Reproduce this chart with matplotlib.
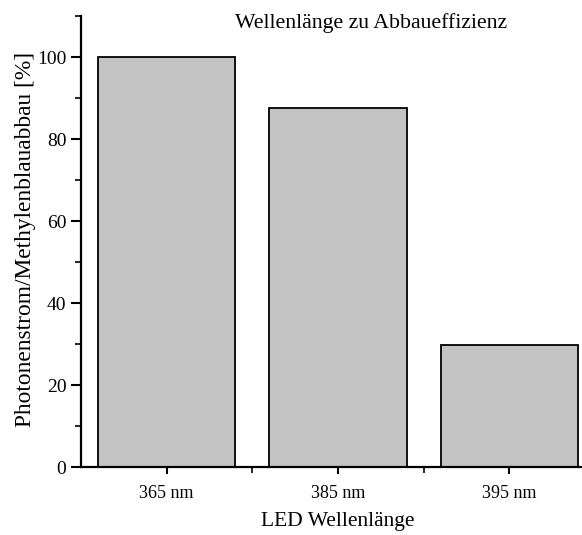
import matplotlib.pyplot as plt
from matplotlib.ticker import MultipleLocator, FixedLocator

# Daten
kategorien = ['365 nm', '385 nm', '395 nm']
abbau = [100, 87.5, 29.7]

plt.rcParams['font.family'] = ['Liberation Serif', 'DejaVu Serif']

fig = plt.figure(figsize=(5.82, 5.35), dpi=100)
ax = fig.add_axes([81 / 582, 68 / 535, 514 / 582, 451 / 535])

x = range(len(kategorien))
ax.bar(x, abbau, width=0.8, color='#c4c4c4', edgecolor='black', linewidth=1.3)

ax.set_xlim(-0.5, 2.5)
ax.set_ylim(0, 110)
ax.set_xticks(list(x))
ax.set_xticklabels(kategorien, fontsize=13)
ax.xaxis.set_minor_locator(FixedLocator([0.5, 1.5]))
ax.yaxis.set_major_locator(MultipleLocator(20))
ax.yaxis.set_minor_locator(MultipleLocator(10))
ax.tick_params(axis='y', which='major', length=7, width=1.5, labelsize=14)
ax.tick_params(axis='y', which='minor', length=4, width=1.2)
ax.tick_params(axis='x', which='major', length=5, width=1.5, pad=8)
ax.tick_params(axis='x', which='minor', length=4, width=1.2)

for s in ['top', 'right']:
    ax.spines[s].set_visible(False)
for s in ['left', 'bottom']:
    ax.spines[s].set_linewidth(1.6)

ax.text(0.564, 0.985, 'Wellenlänge zu Abbaueffizienz', transform=ax.transAxes,
        ha='center', va='center', fontsize=15.7)
ax.set_ylabel('Photonenstrom/Methylenblauabbau [%]', fontsize=16.8)
ax.yaxis.set_label_coords(-0.088, 0.505)
ax.set_xlabel('LED Wellenlänge', fontsize=15.5)
ax.xaxis.set_label_coords(0.5, -0.1)

fig.savefig('out.png', dpi=100)
